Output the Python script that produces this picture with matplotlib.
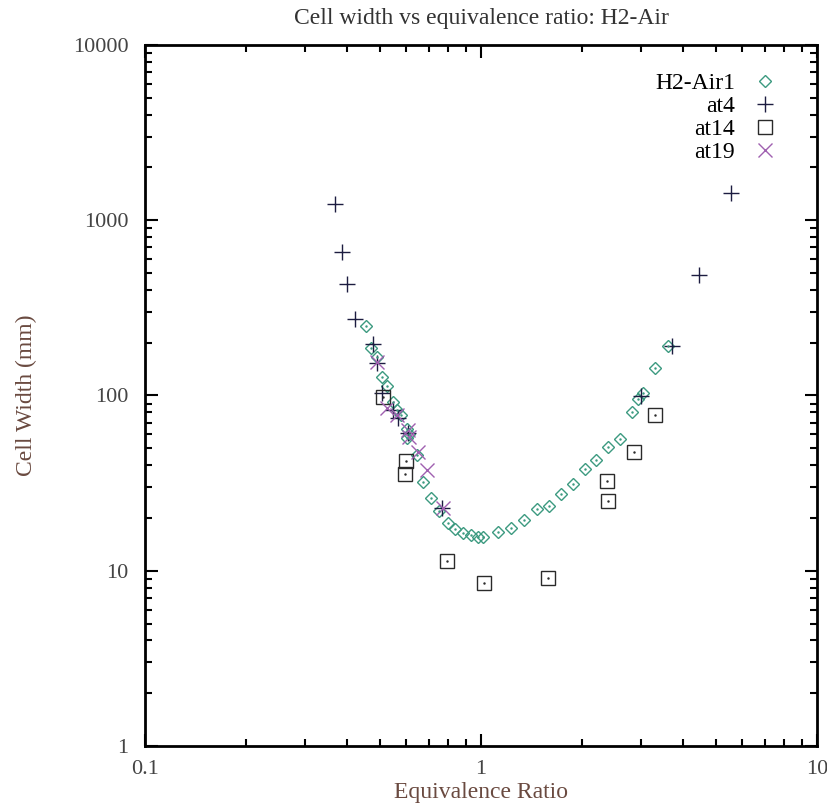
import matplotlib
matplotlib.use("Agg")
import matplotlib.pyplot as plt
from matplotlib.ticker import FixedLocator, NullFormatter, FuncFormatter

plt.rcParams['font.family'] = ['Liberation Serif', 'DejaVu Serif']

# H2-Air1 (diamonds)
h2air_x = [0.455, 0.471, 0.490, 0.507, 0.524, 0.546, 0.561, 0.577, 0.604, 0.601,
           0.612, 0.646, 0.673, 0.710, 0.752, 0.796, 0.837, 0.882, 0.932, 0.978,
           1.012, 1.126, 1.228, 1.340, 1.465, 1.594, 1.727, 1.878, 2.035, 2.204,
           2.391, 2.589, 2.809, 2.927, 3.041, 3.303, 3.595]
h2air_y = [249, 186, 166, 127, 113, 92, 83, 77, 64, 57,
           60, 46, 32, 26, 22, 18.8, 17.4, 16.4, 15.9, 15.5,
           15.5, 16.6, 17.6, 19.6, 22.4, 23.4, 27.4, 31.3, 37.9, 42.9,
           51, 56.6, 81, 96, 103, 144, 192]

# at4 (plus)
at4_x = [0.368, 0.385, 0.398, 0.422, 0.476, 0.490, 0.507, 0.548, 0.568, 0.608,
         0.764, 3.00, 3.69, 4.46, 5.53]
at4_y = [1238, 656, 433, 273, 197, 154, 104, 83, 74, 61,
         22.7, 99, 192, 485, 1425]

# at14 (squares)
at14_x = [0.512, 0.598, 0.594, 0.791, 1.024, 1.586, 2.376, 2.392, 2.848, 3.303]
at14_y = [98.4, 42.5, 35.5, 11.4, 8.48, 9.06, 32.4, 25.1, 47.4, 77.1]

# at19 (crosses)
at19_x = [0.490, 0.526, 0.561, 0.608, 0.612, 0.651, 0.689, 0.772]
at19_y = [156, 84.5, 77, 63.6, 58.2, 47.8, 37.6, 22.7]

fig = plt.figure(figsize=(8.27, 8.05), dpi=100)
ax = fig.add_axes([0.1753, 0.0733, 0.8126, 0.8708])

c_dia = '#3c9a80'
c_plus = '#1c1c40'
c_sq = '#2a2a2a'
c_x = '#a060b0'

ax.plot(h2air_x, h2air_y, 'D', ms=6.5, mfc='none', mec=c_dia, mew=1.0, label='H2-Air1')
ax.plot(at4_x, at4_y, '+', ms=11, color=c_plus, mew=1.0, label='at4')
ax.plot(at14_x, at14_y, 's', ms=10, mfc='none', mec=c_sq, mew=1.0, label='at14')
ax.plot(at19_x, at19_y, 'x', ms=10, color=c_x, mew=1.0, label='at19')
# center dots like the original point style
ax.plot(h2air_x, h2air_y, '.', ms=1.5, color=c_dia)
ax.plot(at14_x, at14_y, '.', ms=1.5, color=c_sq)

ax.set_xscale('log')
ax.set_yscale('log')
ax.set_xlim(0.1, 10)
ax.set_ylim(1, 10000)

ax.xaxis.set_major_locator(FixedLocator([0.1, 1, 10]))
ax.yaxis.set_major_locator(FixedLocator([1, 10, 100, 1000, 10000]))
fmt = FuncFormatter(lambda v, p: f"{v:g}")
ax.xaxis.set_major_formatter(fmt)
ax.yaxis.set_major_formatter(fmt)
ax.xaxis.set_minor_formatter(NullFormatter())
ax.yaxis.set_minor_formatter(NullFormatter())

ax.tick_params(which='both', direction='in', top=True, right=True, width=1.5,
               labelsize=16, colors='black', labelcolor='#444444')
ax.tick_params(axis='x', pad=10)
ax.tick_params(axis='y', pad=12)
ax.tick_params(which='major', length=9)
ax.tick_params(which='minor', length=5)
for s in ax.spines.values():
    s.set_linewidth(2)

ax.set_xlabel('Equivalence Ratio', fontsize=17, color='#6a4a40', labelpad=2)
ax.set_ylabel('Cell Width (mm)', fontsize=17, color='#6a4a40', labelpad=26)
ax.set_title('Cell width vs equivalence ratio: H2-Air', fontsize=17, color='#333333', pad=15)

ax.legend(loc='upper right', bbox_to_anchor=(0.954, 0.974), markerfirst=False,
          frameon=False, fontsize=17, handletextpad=0.76, labelspacing=0.06,
          borderaxespad=0.0, borderpad=0.4, handlelength=1.0)

fig.savefig('out.png', dpi=100)
